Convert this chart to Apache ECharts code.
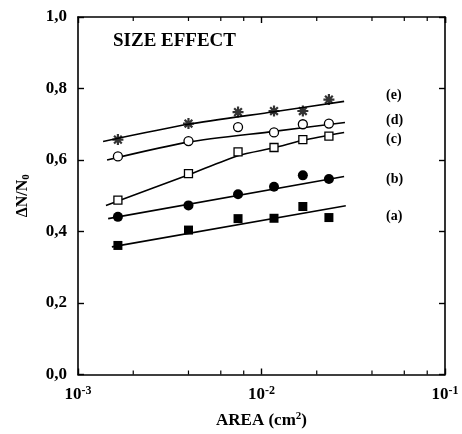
<!DOCTYPE html>
<html lang="en">
<head>
    <meta charset="UTF-8">
    <title>Size effect</title>
    <script src="https://cdn.jsdelivr.net/npm/echarts@6/dist/echarts.min.js"></script>
    <style>
        html, body { margin: 0; padding: 0; background: #fff; }
        #container { width: 462px; height: 434px; }
    </style>
</head>
<body>
<div id="container"></div>
<script>
    // measured areas (cm^2), same for every curve
    var areas = [0.00165, 0.0040, 0.00745, 0.0117, 0.0168, 0.0233];
    var valuesA = [0.361, 0.404, 0.436, 0.437, 0.470, 0.439];
    var valuesB = [0.441, 0.473, 0.504, 0.525, 0.557, 0.547];
    var valuesC = [0.488, 0.562, 0.623, 0.635, 0.657, 0.667];
    var valuesD = [0.610, 0.653, 0.692, 0.677, 0.700, 0.702];
    var valuesE = [0.657, 0.702, 0.734, 0.737, 0.737, 0.769];

    // fitted curves
    var fitA = [[0.00153, 0.357], [0.0288, 0.472]];
    var fitB = [[0.00146, 0.436], [0.0282, 0.554]];
    var fitC = [[0.00142, 0.473], [0.00398, 0.558], [0.00745, 0.612], [0.0117, 0.634], [0.0168, 0.655], [0.0282, 0.677]];
    var fitD = [[0.00144, 0.600], [0.00398, 0.650], [0.0117, 0.680], [0.0285, 0.705]];
    var fitE = [[0.00137, 0.652], [0.00398, 0.700], [0.0117, 0.735], [0.0282, 0.764]];

    var curveLabels = ['(a)', '(b)', '(c)', '(d)', '(e)'];
    var minorTicks = [0.002, 0.004, 0.006, 0.008, 0.02, 0.04, 0.06, 0.08];

    var font = '"Liberation Serif", "DejaVu Serif", serif';
    var asterisk = 'path://M5,0L5,10M0,5L10,5M1.5,1.5L8.5,8.5M8.5,1.5L1.5,8.5';

    function pairs(ys) {
        return ys.map(function (y, i) { return [areas[i], y]; });
    }

    function fitLine(data) {
        return {
            type: 'line', data: data, smooth: 0.25, showSymbol: false, silent: true,
            lineStyle: { color: '#000', width: 1.6 }, z: 2
        };
    }

    function marks(ys, symbol, size, filled) {
        return {
            type: 'scatter', data: pairs(ys), symbol: symbol, symbolSize: size, z: 3,
            itemStyle: {
                color: filled ? '#000' : '#fff',
                borderColor: '#000',
                borderWidth: filled ? 0 : 1.3,
                opacity: 1
            }
        };
    }

    function curveLabel(text, top) {
        return { type: 'text', left: 386, top: top, style: { text: text, font: 'bold 14px ' + font, fill: '#000' } };
    }

    var myChart = echarts.init(document.getElementById('container'));

    var axisLine = { show: true, onZero: false, lineStyle: { color: '#000', width: 1.6 } };
    var tick = { show: true, inside: true, length: 6, lineStyle: { color: '#000', width: 1.4 } };

    myChart.setOption({
        animation: false,
        backgroundColor: '#fff',
        grid: { left: 78, right: 17, top: 17, bottom: 55 },
        xAxis: [
            {
                type: 'log', logBase: 10, min: 0.001, max: 0.1,
                axisLine: axisLine, axisTick: tick, splitLine: { show: false },
                axisLabel: {
                    margin: 10,
                    formatter: function (v) {
                        var e = Math.round(Math.log10(v));
                        return '{b|10}{s|' + e + '}';
                    },
                    rich: {
                        b: { fontFamily: font, fontWeight: 'bold', fontSize: 17, color: '#000' },
                        s: { fontFamily: font, fontWeight: 'bold', fontSize: 12, color: '#000', padding: [0, 0, 9, 0] }
                    }
                },
                name: 'AREA (cm{sup|2})',
                nameLocation: 'middle',
                nameGap: 36,
                nameTextStyle: {
                    fontFamily: font, fontWeight: 'bold', fontSize: 17, color: '#000',
                    rich: {
                        sup: { fontFamily: font, fontWeight: 'bold', fontSize: 11, color: '#000', padding: [0, 0, 9, 0] }
                    }
                }
            },
            {
                type: 'log', logBase: 10, min: 0.001, max: 0.1, position: 'top',
                axisLine: axisLine, axisTick: tick, axisLabel: { show: false }, splitLine: { show: false }
            }
        ],
        yAxis: [
            {
                type: 'value', min: 0, max: 1, interval: 0.2,
                axisLine: axisLine, axisTick: tick, splitLine: { show: false },
                axisLabel: {
                    margin: 11,
                    fontFamily: font, fontWeight: 'bold', fontSize: 17, color: '#000',
                    formatter: function (v) { return v.toFixed(1).replace('.', ','); }
                },
                name: '\u0394N/N{sub|0}',
                nameLocation: 'middle',
                nameRotate: 90,
                nameGap: 46,
                nameTextStyle: {
                    fontFamily: font, fontWeight: 'bold', fontSize: 16, color: '#000',
                    rich: {
                        sub: { fontFamily: font, fontWeight: 'bold', fontSize: 11, color: '#000', padding: [7, 0, 0, 0] }
                    }
                }
            },
            {
                type: 'value', min: 0, max: 1, interval: 0.2, position: 'right',
                axisLine: axisLine, axisTick: tick, axisLabel: { show: false }, splitLine: { show: false }
            }
        ],
        series: [
            fitLine(fitA), fitLine(fitB), fitLine(fitC), fitLine(fitD), fitLine(fitE),
            marks(valuesA, 'rect', 9, true),
            marks(valuesB, 'circle', 10, true),
            marks(valuesC, 'rect', 8, false),
            marks(valuesD, 'circle', 9, false),
            {
                type: 'scatter', data: pairs(valuesE), symbol: asterisk, symbolSize: 11, z: 3,
                itemStyle: { color: 'none', borderColor: '#000', borderWidth: 2.2 }
            },
            {
                // minor ticks at 2,4,6,8 of each decade, bottom and top
                type: 'custom', silent: true, clip: false,
                data: minorTicks.map(function (v) { return [v]; }),
                encode: { x: 0 },
                renderItem: function (params, api) {
                    var b = api.coord([api.value(0), 0]);
                    var t = api.coord([api.value(0), 1]);
                    var st = { stroke: '#000', lineWidth: 1.2 };
                    return {
                        type: 'group',
                        children: [
                            { type: 'line', shape: { x1: b[0], y1: b[1], x2: b[0], y2: b[1] - 4 }, style: st },
                            { type: 'line', shape: { x1: t[0], y1: t[1], x2: t[0], y2: t[1] + 4 }, style: st }
                        ]
                    };
                }
            }
        ],
        graphic: [
            {
                type: 'text', left: 113, top: 32,
                style: { text: 'SIZE EFFECT', font: 'bold 19px ' + font, fill: '#000' }
            },
            curveLabel(curveLabels[4], 88),
            curveLabel(curveLabels[3], 113),
            curveLabel(curveLabels[2], 132),
            curveLabel(curveLabels[1], 172),
            curveLabel(curveLabels[0], 209)
        ]
    });
</script>
</body>
</html>
